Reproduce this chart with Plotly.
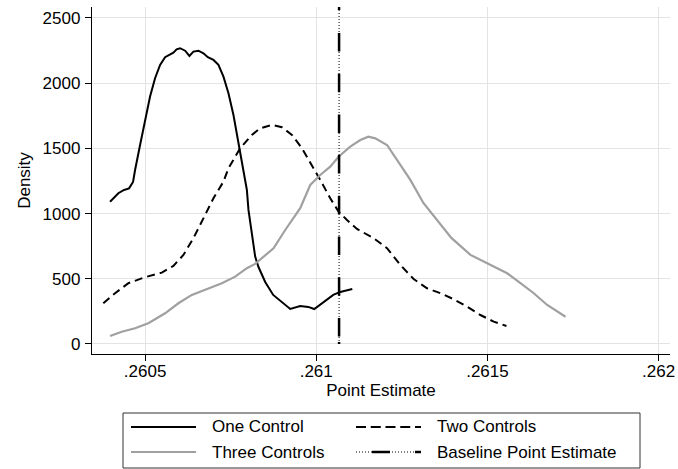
import plotly.graph_objects as go

# ---------------- data ----------------
one_x = [0.2603977, 0.2604219, 0.2604386, 0.2604532, 0.2604649, 0.2604708, 0.2604854, 0.2605000,
         0.2605146, 0.2605292, 0.2605439, 0.2605585, 0.2605702, 0.2605827, 0.2605921, 0.2606023,
         0.2606170, 0.2606295, 0.2606412, 0.2606559, 0.2606705, 0.2606833, 0.2606997, 0.2607143,
         0.2607290, 0.2607436, 0.2607582, 0.2607728, 0.2607874, 0.2607974, 0.2608020, 0.2608120,
         0.2608216, 0.2608313, 0.2608509, 0.2608743, 0.2609006, 0.2609240, 0.2609532, 0.2609766,
         0.2609942, 0.2610205, 0.2610497, 0.2610702, 0.2611053]
one_y = [1091, 1156, 1181, 1193, 1242, 1334, 1526, 1718,
         1897, 2038, 2140, 2199, 2216, 2234, 2259, 2268,
         2249, 2209, 2242, 2249, 2229, 2199, 2178, 2140,
         2050, 1923, 1756, 1551, 1334, 1181, 1028, 823,
         670, 590, 475, 376, 322, 268, 291, 284,
         268, 322, 376, 399, 422]

two_x = [0.2603781, 0.2604123, 0.2604512, 0.2605000, 0.2605488, 0.2605827, 0.2606120, 0.2606412,
         0.2606754, 0.2606997, 0.2607290, 0.2607436, 0.2607778, 0.2608120, 0.2608363, 0.2608705,
         0.2608997, 0.2609290, 0.2609582, 0.2609874, 0.2610117, 0.2610409, 0.2610652, 0.2610898,
         0.2611190, 0.2611676, 0.2612067, 0.2612456, 0.2612845, 0.2613237, 0.2613626, 0.2614015,
         0.2614407, 0.2614795, 0.2615184, 0.2615556]
two_y = [312, 389, 466, 512, 547, 598, 683, 811,
         989, 1117, 1245, 1347, 1501, 1603, 1654, 1680,
         1662, 1603, 1501, 1373, 1258, 1117, 1015, 951,
         882, 811, 734, 606, 498, 427, 389, 343,
         286, 222, 171, 138]

three_x = [0.2603977, 0.2604319, 0.2604708, 0.2605096, 0.2605585, 0.2605974, 0.2606366, 0.2606851,
           0.2607243, 0.2607632, 0.2607974, 0.2608216, 0.2608509, 0.2608752, 0.2609094, 0.2609532,
           0.2609825, 0.2610117, 0.2610409, 0.2610652, 0.2610994, 0.2611287, 0.2611521, 0.2611725,
           0.2612067, 0.2612398, 0.2612749, 0.2613129, 0.2613567, 0.2613947, 0.2614503, 0.2614991,
           0.2615576, 0.2615965, 0.2616354, 0.2616746, 0.2617281]
three_y = [61, 94, 120, 159, 235, 312, 376, 427,
           466, 516, 581, 614, 683, 734, 874, 1041,
           1219, 1296, 1360, 1436, 1513, 1564, 1590, 1577,
           1526, 1396, 1258, 1081, 936, 813, 683, 619,
           542, 466, 389, 299, 209]

baseline_x = [0.2610667, 0.2610667]
baseline_y = [2584, 0]

x_ticks = [0.2605, 0.261, 0.2615, 0.262]
x_tick_labels = [".2605", ".261", ".2615", ".262"]
y_ticks = [0, 500, 1000, 1500, 2000, 2500]
series_names = ["One Control", "Two Controls", "Three Controls", "Baseline Point Estimate"]

# ---------------- layout helpers ----------------
W, H = 678, 469
L, R, T, B = 92, 670, 7, 354
FONT = "Liberation Sans, Arial, sans-serif"
GRAY = "#a0a0a0"


def xp(px):
    return (px - L) / (R - L)


def yp(py):
    return (B - py) / (B - T)


fig = go.Figure()
fig.add_trace(go.Scatter(x=one_x, y=one_y, mode="lines", name=series_names[0],
                         line=dict(color="black", width=2), showlegend=False))
fig.add_trace(go.Scatter(x=two_x, y=two_y, mode="lines", name=series_names[1],
                         line=dict(color="black", width=2, dash="8px,5px"), showlegend=False))
fig.add_trace(go.Scatter(x=three_x, y=three_y, mode="lines", name=series_names[2],
                         line=dict(color=GRAY, width=2.2), showlegend=False))
fig.add_trace(go.Scatter(x=baseline_x, y=baseline_y, mode="lines", name=series_names[3],
                         line=dict(color="black", width=1, dash="1px,2px"), showlegend=False))
thick = [3, 23] + [18.5, 22.2] * 7 + [18.5, 5.5, 2, 10]
fig.add_trace(go.Scatter(x=baseline_x, y=baseline_y, mode="lines", name=series_names[3],
                         line=dict(color="black", width=2.5,
                                   dash=",".join(f"{v}px" for v in thick)),
                         showlegend=False))

# ---------------- manual legend ----------------
shapes = [dict(type="rect", xref="paper", yref="paper", x0=xp(123), x1=xp(640), y0=yp(413), y1=yp(468),
               line=dict(color="#333333", width=1), fillcolor="white", layer="above")]
annotations = []
rows = [427, 452]
cols = [131, 356]
entries = [(0, 0), (1, 0), (0, 1), (1, 1)]  # (col,row) for each series
for i, (c, r) in enumerate(entries):
    x0, x1, yy = cols[c], cols[c] + 65, rows[r]
    if i == 0:
        shapes.append(dict(type="line", xref="paper", yref="paper", x0=xp(x0), x1=xp(x1), y0=yp(yy), y1=yp(yy),
                           line=dict(color="black", width=2)))
    elif i == 1:
        shapes.append(dict(type="line", xref="paper", yref="paper", x0=xp(x0), x1=xp(x1), y0=yp(yy), y1=yp(yy),
                           line=dict(color="black", width=2, dash="10px,4.75px")))
    elif i == 2:
        shapes.append(dict(type="line", xref="paper", yref="paper", x0=xp(x0), x1=xp(x1), y0=yp(yy), y1=yp(yy),
                           line=dict(color=GRAY, width=2.2)))
    else:
        shapes.append(dict(type="line", xref="paper", yref="paper", x0=xp(x0), x1=xp(x1), y0=yp(yy), y1=yp(yy),
                           line=dict(color="black", width=1, dash="1px,2px")))
        shapes.append(dict(type="line", xref="paper", yref="paper", x0=xp(x0 + 16), x1=xp(x0 + 34), y0=yp(yy), y1=yp(yy),
                           line=dict(color="black", width=2.5)))
        shapes.append(dict(type="line", xref="paper", yref="paper", x0=xp(x0 + 59), x1=xp(x1), y0=yp(yy), y1=yp(yy),
                           line=dict(color="black", width=2.5)))
    annotations.append(dict(text=series_names[i], xref="paper", yref="paper", x=xp(x1 + 14), y=yp(yy),
                            xanchor="left", yanchor="middle", showarrow=False,
                            font=dict(family=FONT, size=17, color="black")))

fig.update_layout(
    width=W, height=H,
    margin=dict(l=L, r=W - R, t=T, b=H - B, pad=0, autoexpand=False),
    paper_bgcolor="white", plot_bgcolor="white",
    font=dict(family=FONT, size=17, color="black"),
    shapes=shapes, annotations=annotations,
    showlegend=False,
    xaxis=dict(range=[0.260345, 0.2620333], tickvals=x_ticks, ticktext=x_tick_labels,
               showgrid=True, gridcolor="#e3e3e3", gridwidth=1.3, zeroline=False, automargin=False,
               showline=True, linecolor="black", linewidth=1.3, ticks="outside", ticklen=6,
               tickcolor="black", tickwidth=1.3, ticklabeloverflow="allow", ticklabelstandoff=-5,
               title=dict(text="Point Estimate", font=dict(size=17), standoff=2)),
    yaxis=dict(range=[-77, 2584], tickvals=y_ticks, automargin=False,
               showgrid=True, gridcolor="#e3e3e3", gridwidth=1.3, zeroline=False,
               showline=True, linecolor="black", linewidth=1.3, ticks="outside", ticklen=6,
               tickcolor="black", tickwidth=1.3, ticklabelstandoff=1,
               title=dict(text="Density", font=dict(size=17), standoff=7)),
)

fig.write_html("out.html", config={"displayModeBar": False},
               post_script="document.body.style.margin='0';document.body.style.overflow='hidden';")
